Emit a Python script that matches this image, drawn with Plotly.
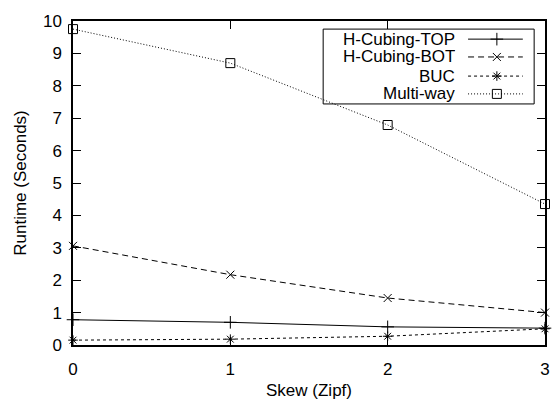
import plotly.graph_objects as go

skew = [0, 1, 2, 3]
h_top = [0.78, 0.70, 0.56, 0.52]
h_bot = [3.06, 2.17, 1.45, 1.00]
buc = [0.15, 0.18, 0.27, 0.50]
multiway = [9.75, 8.70, 6.79, 4.35]

names = ["H-Cubing-TOP", "H-Cubing-BOT", "BUC", "Multi-way"]
series = [h_top, h_bot, buc, multiway]
x_ticks = [0, 1, 2, 3]
y_ticks = list(range(0, 11))

styles = [
    dict(dash="solid", symbol="cross-thin", size=9),
    dict(dash="6px,4px", symbol="x-thin", size=8),
    dict(dash="3px,3px", symbol="asterisk", size=8),
    dict(dash="1px,2px", symbol="square-open", size=9),
]

FONT = "Liberation Sans, Arial, Helvetica, sans-serif"
FS = 17

fig = go.Figure()
for name, ys, st in zip(names, series, styles):
    fig.add_trace(go.Scatter(
        x=skew, y=ys, mode="lines+markers", name=name, showlegend=False,
        line=dict(color="black", width=1, dash=st["dash"]),
        marker=dict(symbol=st["symbol"], size=st["size"], color="black",
                    line=dict(color="black", width=1)),
        cliponaxis=False,
    ))

# custom gnuplot-style key (text right-aligned, sample on the right)
key_rows = [0.944, 0.889, 0.830, 0.775]
for name, st, ry in zip(names, styles, key_rows):
    fig.add_trace(go.Scatter(
        x=[0.837, 0.953], y=[ry, ry], mode="lines", xaxis="x2", yaxis="y2",
        showlegend=False, hoverinfo="skip",
        line=dict(color="black", width=1, dash=st["dash"]),
    ))
    fig.add_trace(go.Scatter(
        x=[0.898], y=[ry], mode="markers", xaxis="x2", yaxis="y2",
        showlegend=False, hoverinfo="skip",
        marker=dict(symbol=st["symbol"], size=st["size"], color="black",
                    line=dict(color="black", width=1)),
    ))
    fig.add_annotation(x=0.811, y=ry, xref="paper", yref="paper", text=name,
                       showarrow=False, xanchor="right", yanchor="middle",
                       height=17, borderpad=0,
                       font=dict(family=FONT, size=FS, color="black"))

fig.add_shape(type="rect", xref="paper", yref="paper", x0=0.530, x1=0.977,
              y0=0.744, y1=0.975, line=dict(color="black", width=1))

axis_common = dict(showline=True, linecolor="black", linewidth=1.5, mirror="ticks",
                   ticks="inside", ticklen=8, tickwidth=1, tickcolor="black",
                   showgrid=False, zeroline=False, automargin=False,
                   tickfont=dict(family=FONT, size=FS, color="black"))

fig.update_layout(
    width=553, height=400,
    margin=dict(l=73, r=8, t=21, b=55),
    paper_bgcolor="white", plot_bgcolor="white",
    font=dict(family=FONT, size=FS, color="black"),
    xaxis=dict(range=[0, 3], tickvals=x_ticks, ticklabelstandoff=8,
               title=dict(text="Skew (Zipf)", standoff=10,
                          font=dict(family=FONT, size=FS)), **axis_common),
    yaxis=dict(range=[0, 10], tickvals=y_ticks, ticklabelstandoff=6,
               title=dict(text="Runtime (Seconds)", standoff=12,
                          font=dict(family=FONT, size=FS)), **axis_common),
    xaxis2=dict(range=[0, 1], overlaying="x", visible=False, fixedrange=True),
    yaxis2=dict(range=[0, 1], overlaying="y", visible=False, fixedrange=True),
)

fig.write_html("out.html", config={"displayModeBar": False},
               post_script="document.body.style.margin='0';document.body.style.padding='0';")
